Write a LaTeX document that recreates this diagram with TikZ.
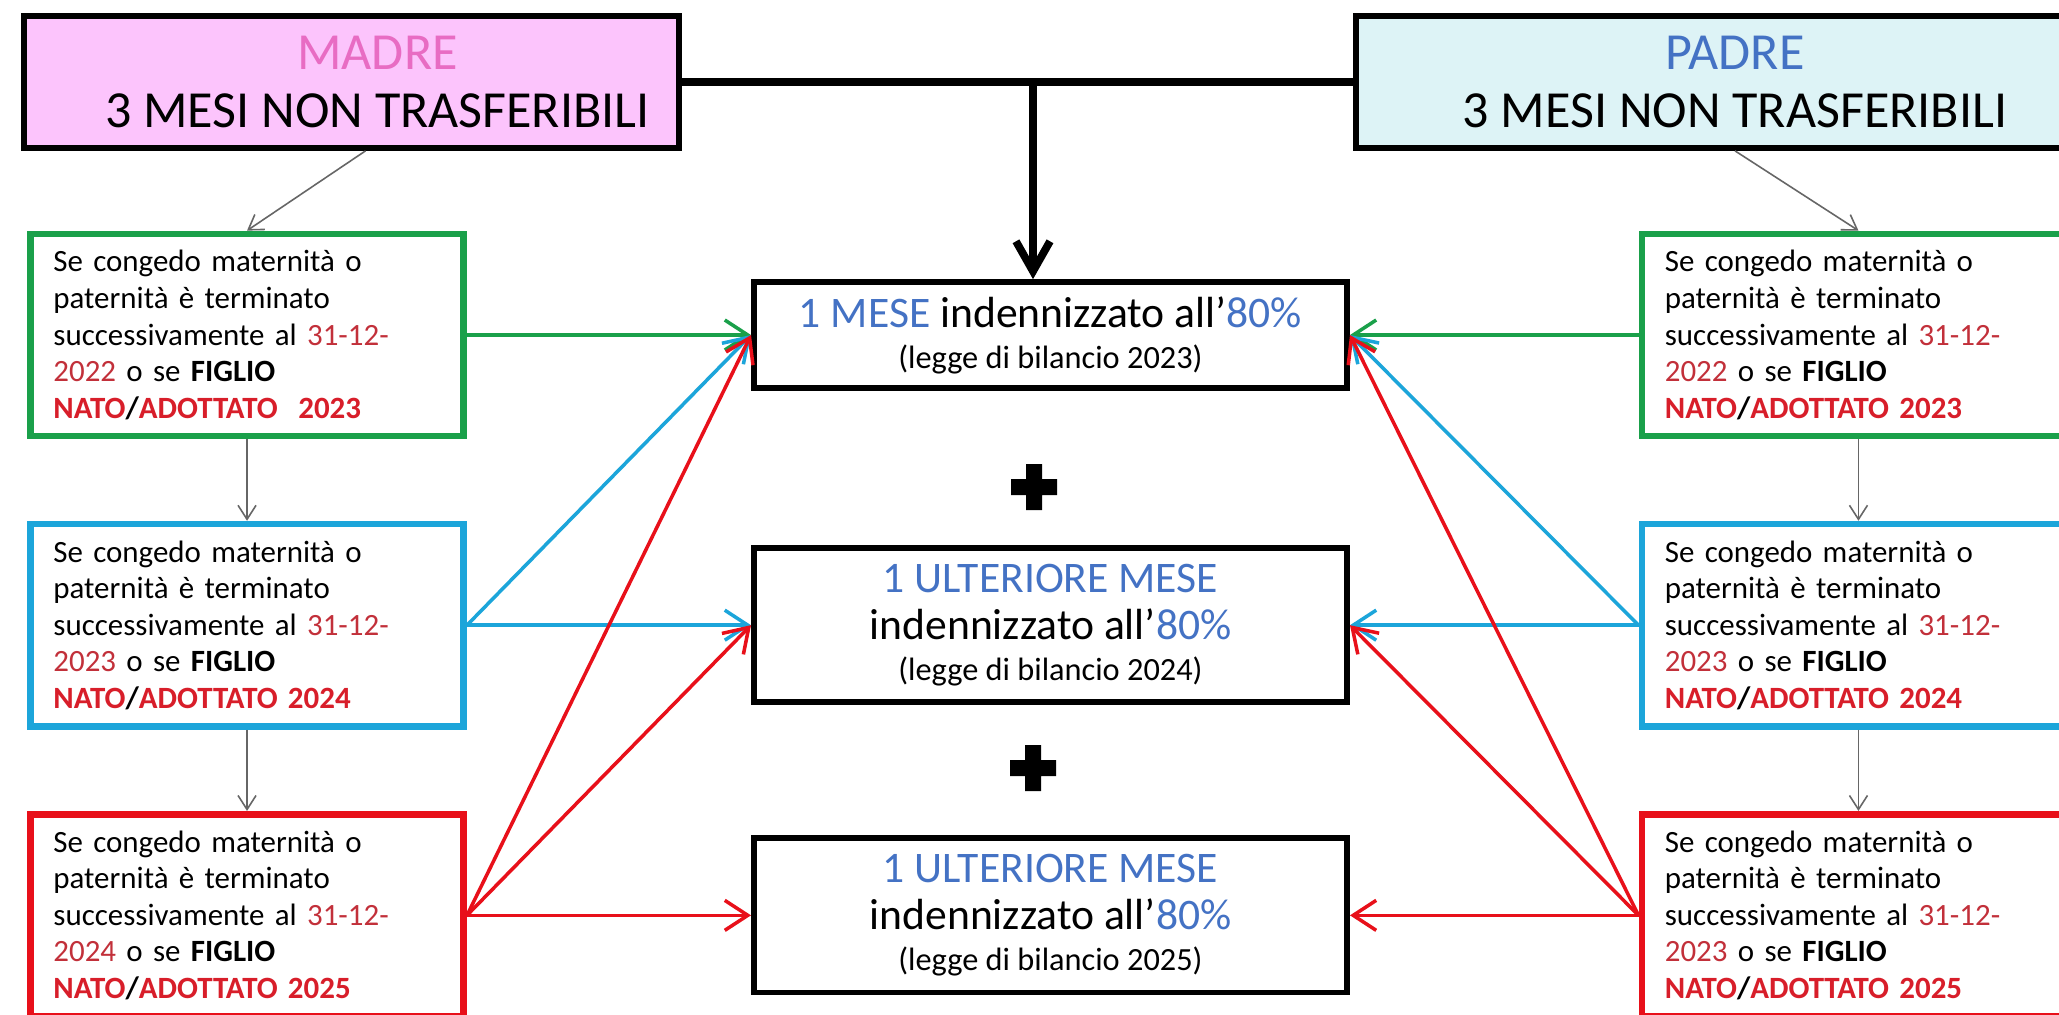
\documentclass[tikz,border=0pt]{standalone}
\usepackage{fontspec}
\setmainfont{Carlito}
\usetikzlibrary{arrows.meta,positioning}

\definecolor{madrefill}{HTML}{FCC4FC}
\definecolor{madretxt}{HTML}{E86CC3}
\definecolor{padrefill}{HTML}{DDF3F6}
\definecolor{blu}{HTML}{4472C4}
\definecolor{vgreen}{HTML}{1AA04A}
\definecolor{vcyan}{HTML}{1CA5DA}
\definecolor{vred}{HTML}{E8101A}
\definecolor{dred}{HTML}{C2303A}
\definecolor{nred}{HTML}{D81E2A}

\begin{document}
\begin{tikzpicture}[x=0.01cm, y=-0.01cm, node distance={2.9cm},
    main/.style = {draw, rectangle, line width=1.6pt, inner sep=0pt},
    titlebox/.style = {main, minimum height=1.32cm, align=center, font=\fontsize{14.8}{16.5}\selectfont},
    mese/.style = {main, minimum width=5.93cm, align=center, font=\fontsize{12.4}{13.4}\selectfont},
    cond/.style = {draw, rectangle, line width=1.9pt, text width=3.87cm, inner xsep=0.23cm, inner ysep=0pt, minimum height=2.02cm, align=left, font=\fontsize{8.8}{10.4}\selectfont},
    arr/.style = {-{Straight Barb[length=2.3mm,width=3mm]}, line width=1pt},
    link/.style = {-{Straight Barb[length=1.4mm,width=1.8mm]}, line width=0.45pt, draw=black!60}]
    \useasboundingbox (0,0) rectangle (2059,1014);
    \clip (0,0) rectangle (2059,1014);
    \fill[white] (0,0) rectangle (2059,1014);

    % genitori
    \node[titlebox, minimum width=6.55cm, fill=madrefill] (1) at (351.5,82) {\hspace*{0.52cm}\textcolor{madretxt}{MADRE}\\\hspace*{0.52cm}3 MESI NON TRASFERIBILI};
    \node[titlebox, minimum width=7.58cm, fill=padrefill] (2) at (1735,82) {\textcolor{blu}{PADRE}\\3 MESI NON TRASFERIBILI};

    % mesi indennizzati
    \node[mese, minimum height=1.06cm] (3) at (1050.5,335) {\textcolor{blu}{1 MESE} indennizzato all’\textcolor{blu}{80\%}\\[-1.8pt]{\fontsize{9.2}{11}\selectfont (legge di bilancio 2023)}};
    \node[mese, minimum height=1.54cm] (4) [below of=3] {\textcolor{blu}{1 ULTERIORE MESE}\\indennizzato all’\textcolor{blu}{80\%}\\[-1.8pt]{\fontsize{9.2}{11}\selectfont (legge di bilancio 2024)}};
    \node[mese, minimum height=1.54cm] (5) [below of=4] {\textcolor{blu}{1 ULTERIORE MESE}\\indennizzato all’\textcolor{blu}{80\%}\\[-1.8pt]{\fontsize{9.2}{11}\selectfont (legge di bilancio 2025)}};

    % il segno piu
    \fill (1034,487) +(-23,-8) rectangle +(23,8) +(-8,-23) rectangle +(8,23);
    \fill (1033,768) +(-23,-8) rectangle +(23,8) +(-8,-23) rectangle +(8,23);

    % condizioni madre
    \node[cond, draw=vgreen] (6) [left of=3, node distance=8.03cm] {Se congedo maternità o\\paternità è terminato\\successivamente al \textcolor{dred}{31-12-}\\\textcolor{dred}{2022} o se \textbf{FIGLIO}\\\textbf{\textcolor{nred}{NATO}/\textcolor{nred}{ADOTTATO}\ \ \textcolor{nred}{2023}}};
    \node[cond, draw=vcyan] (7) [below of=6] {Se congedo maternità o\\paternità è terminato\\successivamente al \textcolor{dred}{31-12-}\\\textcolor{dred}{2023} o se \textbf{FIGLIO}\\\textbf{\textcolor{nred}{NATO}/\textcolor{nred}{ADOTTATO 2024}}};
    \node[cond, draw=vred] (8) [below of=7] {Se congedo maternità o\\paternità è terminato\\successivamente al \textcolor{dred}{31-12-}\\\textcolor{dred}{2024} o se \textbf{FIGLIO}\\\textbf{\textcolor{nred}{NATO}/\textcolor{nred}{ADOTTATO 2025}}};

    % condizioni padre
    \node[cond, draw=vgreen] (9) [right of=3, node distance=8.075cm] {Se congedo maternità o\\paternità è terminato\\successivamente al \textcolor{dred}{31-12-}\\\textcolor{dred}{2022} o se \textbf{FIGLIO}\\\textbf{\textcolor{nred}{NATO}/\textcolor{nred}{ADOTTATO 2023}}};
    \node[cond, draw=vcyan] (10) [below of=9] {Se congedo maternità o\\paternità è terminato\\successivamente al \textcolor{dred}{31-12-}\\\textcolor{dred}{2023} o se \textbf{FIGLIO}\\\textbf{\textcolor{nred}{NATO}/\textcolor{nred}{ADOTTATO 2024}}};
    \node[cond, draw=vred] (11) [below of=10] {Se congedo maternità o\\paternità è terminato\\successivamente al \textcolor{dred}{31-12-}\\\textcolor{dred}{2023} o se \textbf{FIGLIO}\\\textbf{\textcolor{nred}{NATO}/\textcolor{nred}{ADOTTATO 2025}}};

    % collegamento centrale
    \coordinate (j) at (1033,82);
    \draw[line width=2.2pt] (1) -- (2);
    \draw[line width=2.2pt, -{Straight Barb[length=3mm,width=3.4mm]}] (j) -- (j |- 3.north);

    % frecce sottili
    \draw[link] ([xshift=0.14cm]1.south) -- (6.north);
    \draw[link] (6) -- (7);
    \draw[link] (7) -- (8);
    \draw[link] (2.south) -- (9.north);
    \draw[link] (9) -- (10);
    \draw[link] (10) -- (11);

    % frecce colorate
    \draw[arr, vgreen] (6.east) -- (3.west);
    \draw[arr, vcyan] (7.east) -- (3.west);
    \draw[arr, vcyan] (7.east) -- (4.west);
    \draw[arr, vred] (8.east) -- (3.west);
    \draw[arr, vred] (8.east) -- (4.west);
    \draw[arr, vred] (8.east) -- (5.west);
    \draw[arr, vgreen] (9.west) -- (3.east);
    \draw[arr, vcyan] (10.west) -- (3.east);
    \draw[arr, vcyan] (10.west) -- (4.east);
    \draw[arr, vred] (11.west) -- (3.east);
    \draw[arr, vred] (11.west) -- (4.east);
    \draw[arr, vred] (11.west) -- (5.east);
\end{tikzpicture}
\end{document}
